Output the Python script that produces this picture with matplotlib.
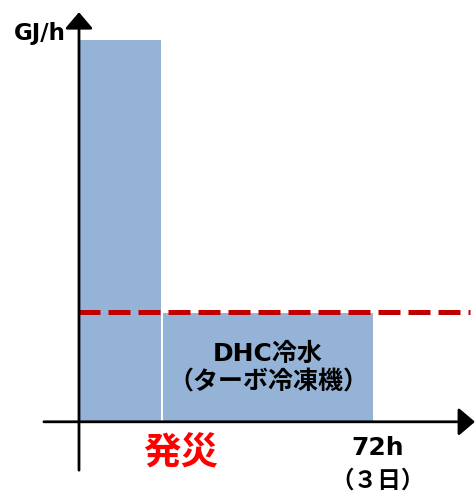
import matplotlib
matplotlib.use('Agg')
import matplotlib.pyplot as plt

plt.rcParams['font.family'] = ['DejaVu Sans', 'Noto Sans CJK JP']

# schematic data (hours, GJ/h as % of peak)
bar_left = [0, 20.5]
bar_width = [20.0, 51.5]
bar_height = [100, 28.3]
capacity = 28.6          # red dashed line
x_labels = ['発災', '72h', '（３日）']
bar_text = ['DHC冷水', '（ターボ冷凍機）']

fig = plt.figure(figsize=(4.75, 4.98), dpi=100)
ax = fig.add_axes([0, 0, 1, 1])
ax.set_xlim(-19.35, 97.0)
ax.set_ylim(-20.2, 110.5)
ax.axis('off')

ax.bar(bar_left, bar_height, width=bar_width, align='edge',
       color='#95B3D7', edgecolor='none', zorder=1)

ax.plot([-0.3, 95.8], [capacity, capacity], color='#C00000', lw=3.6,
        dashes=(4.4, 1.6), solid_capstyle='butt', dash_capstyle='butt', zorder=3)

# axes with arrows
arrow = dict(arrowstyle='-|>,head_length=1.0,head_width=0.85',
             color='black', lw=2, shrinkA=0, shrinkB=0)
ax.annotate('', xy=(0, 107.3), xytext=(0, -12.9), arrowprops=arrow, zorder=4)
ax.annotate('', xy=(97.0, -0.2), xytext=(-8.6, -0.2), arrowprops=arrow, zorder=4)

ax.text(-9.7, 101.8, 'GJ/h', ha='center', va='center', fontsize=16.5,
        fontweight='bold')
ax.text(46.3, 17.6, bar_text[0], ha='center', va='center', fontsize=18,
        fontweight='bold')
ax.text(46.3, 10.0, bar_text[1], ha='center', va='center', fontsize=18,
        fontweight='bold')
ax.text(25, -8.9, x_labels[0], ha='center', va='center',
        fontsize=27, fontweight='bold', color='#FF0000')
ax.text(73.2, -7.1, x_labels[1], ha='center', va='center',
        fontsize=18, fontweight='bold')
ax.text(73.2, -15.7, x_labels[2], ha='center', va='center',
        fontsize=17, fontweight='bold')

fig.savefig('out.png', dpi=100)
